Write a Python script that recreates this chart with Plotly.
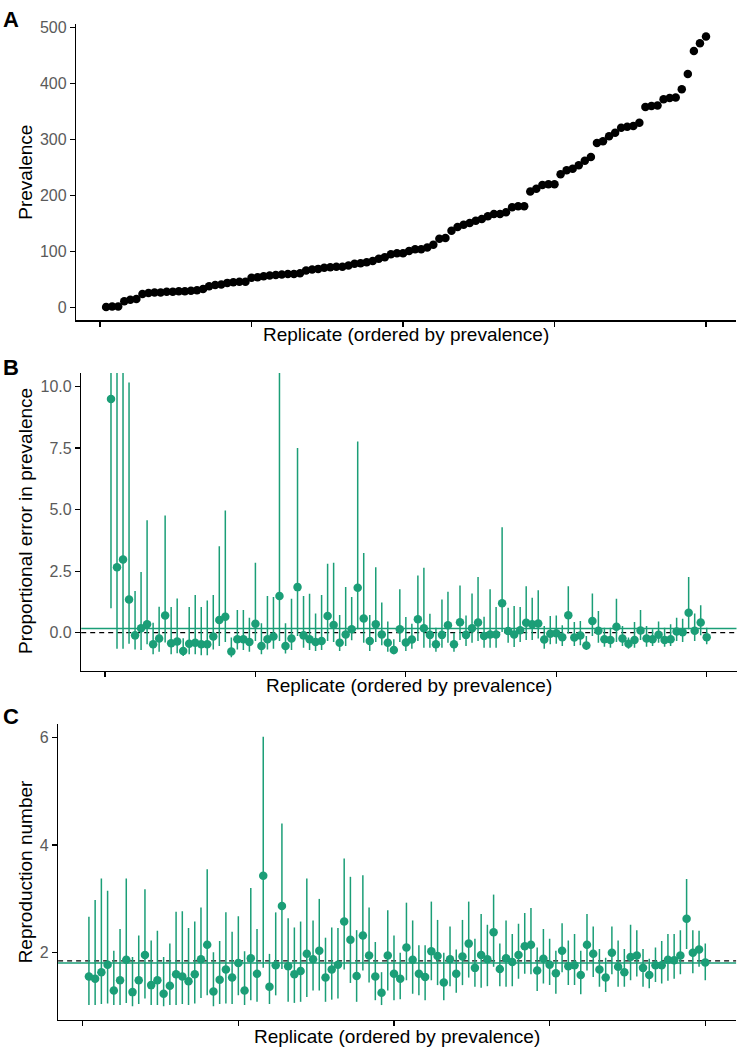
import plotly.graph_objects as go

# ---------------- data ----------------
replicate = list(range(1, 101))

prevalence = [1, 2, 2, 11, 14, 15, 24, 26, 27, 27, 28, 28, 29, 29, 30, 31, 33,
              38, 40, 41, 44, 45, 46, 46,
              53, 54, 56, 57, 58, 59, 60, 60, 61,
              66, 68, 69, 71, 72, 73, 73, 75, 78, 79, 81,
              83, 87, 90, 95, 97, 97, 101, 104, 104, 107, 112, 123, 124,
              137, 144, 148, 151, 155, 158, 163, 167, 167, 170, 179, 181, 181,
              207, 212, 219, 220, 220, 238, 245, 248, 254, 262, 269,
              294, 297, 306, 312, 321, 323, 324, 330,
              358, 360, 361, 372, 374, 375, 390, 417, 458, 472, 484]

err_mid = [9.49, 2.66, 2.97, 1.35, -0.11, 0.18, 0.34, -0.47, -0.24, 0.70,
           -0.43, -0.36, -0.74, -0.45, -0.41, -0.47, -0.47, -0.16, 0.51, 0.65,
           -0.77, -0.27, -0.27, -0.38, 0.36, -0.54, -0.27, -0.16, 1.49, -0.54,
           -0.24, 1.85, -0.11, -0.27, -0.38, -0.34, 0.68, 0.31, -0.41, -0.07,
           0.14, 1.82, 0.58, -0.34, 0.34, -0.07, -0.41, -0.70, 0.14, -0.40,
           -0.28, 0.54, 0.18, -0.09, -0.47, -0.09, 0.30, -0.47, 0.42, -0.09,
           0.18, 0.41, -0.14, -0.07, -0.07, 1.19, 0.07, -0.07, 0.10, 0.40,
           0.34, 0.37, -0.28, -0.04, -0.02, -0.19, 0.71, -0.20, -0.12, -0.52,
           0.47, 0.08, -0.27, -0.30, 0.24, -0.24, -0.45, -0.30, 0.09, -0.24,
           -0.27, -0.08, -0.30, -0.27, 0.05, 0.02, 0.81, 0.08, 0.41, -0.19]
err_lo = [0.99, -0.65, -0.65, -0.45, -0.68, -0.70, -0.47, -0.88, -0.78, -0.40,
          -0.88, -0.84, -0.95, -0.88, -0.88, -0.92, -0.92, -0.68, -0.54, -0.38,
          -1.00, -0.68, -0.70, -0.78, -0.34, -0.88, -0.68, -0.65, -0.34, -0.85,
          -0.70, -0.14, -0.61, -0.70, -0.74, -0.70, -0.34, -0.38, -0.74, -0.54,
          -0.31, 0.14, -0.41, -0.74, -0.38, -0.51, -0.78, -0.88, -0.38, -0.74,
          -0.65, -0.34, -0.61, -0.61, -0.78, -0.61, -0.41, -0.78, -0.30, -0.54,
          -0.41, -0.34, -0.61, -0.61, -0.61, 0.03, -0.41, -0.58, -0.38, -0.30,
          -0.30, -0.24, -0.65, -0.47, -0.45, -0.54, -0.03, -0.54, -0.51, -0.70,
          -0.14, -0.41, -0.57, -0.61, -0.38, -0.54, -0.65, -0.61, -0.30, -0.57,
          -0.54, -0.41, -0.57, -0.54, -0.34, -0.38, 0.14, -0.34, -0.11, -0.47]
err_hi = [15.0, 14.0, 13.0, 10.16, 1.69, 2.46, 4.57, 0.40, 1.05, 4.76,
          1.04, 1.39, -0.23, 1.04, 1.53, 1.04, 1.31, 1.53, 3.51, 4.96,
          -0.20, 0.92, 0.92, 0.61, 2.84, 0.38, 1.49, 1.45, 12.0, 0.38,
          1.38, 7.50, 1.49, 1.58, 0.78, 1.53, 2.80, 2.84, 0.72, 1.85,
          1.45, 7.77, 3.24, 0.72, 2.66, 1.22, 0.45, -0.27, 1.76, 0.64,
          0.36, 2.32, 2.64, 0.77, 0.20, 1.35, 1.66, 0.00, 1.92, 0.70,
          1.59, 2.26, 0.65, 1.76, 1.04, 4.28, 1.01, 1.08, 1.04, 1.89,
          1.42, 1.72, 0.27, 0.68, 0.70, 0.30, 1.89, 0.43, 0.47, -0.14,
          1.59, 0.88, 0.20, 0.20, 1.38, 0.27, -0.20, 0.43, 0.92, 0.27,
          0.14, 0.45, 0.20, 0.34, 0.61, 0.57, 2.26, 0.78, 1.11, 0.20]

r_mid = [1.56, 1.52, 1.64, 1.78, 1.30, 1.49, 1.87, 1.27, 1.49, 1.96,
         1.40, 1.49, 1.24, 1.39, 1.60, 1.56, 1.47, 1.60, 1.88, 2.15,
         1.28, 1.50, 1.69, 1.54, 1.81, 1.30, 1.90, 1.61, 3.43, 1.37,
         1.77, 2.87, 1.75, 1.60, 1.66, 1.98, 1.88, 2.04, 1.54, 1.69,
         1.78, 2.58, 2.24, 1.57, 2.32, 1.95, 1.56, 1.26, 1.95, 1.61,
         1.52, 2.10, 1.87, 1.61, 1.55, 2.03, 1.94, 1.45, 1.88, 1.61,
         1.93, 2.17, 1.72, 1.96, 1.88, 2.38, 1.70, 1.90, 1.83, 1.96,
         2.12, 2.15, 1.67, 1.89, 1.78, 1.62, 2.04, 1.75, 1.77, 1.59,
         2.15, 1.98, 1.69, 1.54, 2.00, 1.74, 1.64, 1.92, 1.95, 1.72,
         1.59, 1.77, 1.77, 1.87, 1.86, 1.95, 2.63, 2.00, 2.06, 1.82]
r_lo = [1.03, 1.03, 1.05, 1.06, 1.03, 1.03, 1.07, 1.01, 1.05, 1.15,
        1.03, 1.03, 1.01, 1.03, 1.03, 1.05, 1.03, 1.06, 1.16, 1.21,
        1.01, 1.05, 1.06, 1.05, 1.21, 1.03, 1.12, 1.09, 1.72, 1.05,
        1.21, 1.70, 1.09, 1.07, 1.09, 1.18, 1.30, 1.30, 1.09, 1.13,
        1.15, 1.69, 1.44, 1.09, 1.67, 1.45, 1.12, 1.03, 1.30, 1.12,
        1.14, 1.49, 1.24, 1.21, 1.12, 1.49, 1.40, 1.12, 1.38, 1.26,
        1.40, 1.54, 1.37, 1.35, 1.38, 1.74, 1.38, 1.37, 1.38, 1.52,
        1.61, 1.60, 1.29, 1.43, 1.40, 1.24, 1.64, 1.40, 1.40, 1.23,
        1.67, 1.55, 1.37, 1.27, 1.60, 1.37, 1.37, 1.49, 1.56, 1.37,
        1.34, 1.46, 1.43, 1.48, 1.52, 1.60, 2.07, 1.62, 1.74, 1.49]
r_hi = [2.67, 2.98, 3.38, 3.15, 2.04, 2.44, 3.38, 1.92, 2.32, 3.18,
        2.23, 2.41, 1.92, 2.17, 2.76, 2.77, 2.46, 2.58, 2.84, 3.55,
        2.01, 2.22, 2.75, 2.39, 2.68, 2.03, 3.20, 2.44, 6.01, 1.98,
        2.75, 4.40, 2.64, 2.47, 2.58, 3.38, 2.60, 3.00, 2.28, 2.47,
        2.46, 3.75, 3.41, 2.42, 3.44, 2.84, 2.20, 1.64, 2.79, 2.32,
        2.00, 2.93, 2.60, 2.14, 2.14, 2.95, 2.61, 2.00, 2.49, 2.06,
        2.61, 2.95, 2.26, 2.72, 2.52, 3.08, 2.17, 2.60, 2.35, 2.54,
        2.74, 2.83, 2.10, 2.44, 2.26, 2.04, 2.55, 2.23, 2.35, 2.04,
        2.72, 2.49, 2.07, 1.91, 2.49, 2.23, 2.07, 2.52, 2.42, 2.07,
        1.89, 2.10, 2.22, 2.35, 2.35, 2.42, 3.37, 2.42, 2.41, 2.17]

err_mean_line = 0.17
err_true_line = 0.0
r_mean_line = 1.81
r_true_line = 1.85

x_ticks = [0, 25, 50, 75, 100]
prev_ticks = [0, 100, 200, 300, 400, 500]
err_ticks = [0.0, 2.5, 5.0, 7.5, 10.0]
r_ticks = [2, 4, 6]

GREEN = "#1b9e77"
FONT = "Liberation Sans, Arial, Helvetica, sans-serif"
W, H = 739, 1051

fig = go.Figure()

# Panel A
fig.add_trace(go.Scatter(x=replicate, y=prevalence, mode="markers",
                         marker=dict(color="black", size=8.5, line=dict(width=0)),
                         xaxis="x", yaxis="y", showlegend=False))

# Panel B
fig.add_trace(go.Scatter(
    x=replicate, y=err_mid, mode="markers",
    marker=dict(color=GREEN, size=8.5, line=dict(width=0)),
    error_y=dict(type="data", symmetric=False,
                 array=[h - m for h, m in zip(err_hi, err_mid)],
                 arrayminus=[m - l for m, l in zip(err_mid, err_lo)],
                 width=0, thickness=1.5, color=GREEN),
    xaxis="x2", yaxis="y2", showlegend=False, cliponaxis=True))

# Panel C
fig.add_trace(go.Scatter(
    x=replicate, y=r_mid, mode="markers",
    marker=dict(color=GREEN, size=8.5, line=dict(width=0)),
    error_y=dict(type="data", symmetric=False,
                 array=[h - m for h, m in zip(r_hi, r_mid)],
                 arrayminus=[m - l for m, l in zip(r_mid, r_lo)],
                 width=0, thickness=1.5, color=GREEN),
    xaxis="x3", yaxis="y3", showlegend=False, cliponaxis=True))

# reference lines
shapes = []
for xa, ya, yv, col, dash in [("x2", "y2", err_mean_line, GREEN, "solid"),
                              ("x2", "y2", err_true_line, "black", "5px,4px"),
                              ("x3", "y3", r_mean_line, GREEN, "solid"),
                              ("x3", "y3", r_true_line, "black", "5px,4px")]:
    shapes.append(dict(type="line", xref=xa + " domain", yref=ya, x0=0, x1=1,
                       y0=yv, y1=yv, layer="below",
                       line=dict(color=col, width=1.4, dash=dash)))


def xax(dom_px, anchor):
    return dict(domain=[dom_px[0] / W, dom_px[1] / W], anchor=anchor,
                range=[-3.95, 104.95], tickvals=x_ticks,
                ticktext=[""] * len(x_ticks), ticks="outside", ticklen=5,
                tickwidth=1.1, tickcolor="black", showline=True,
                linecolor="black", linewidth=1.3, showgrid=False,
                zeroline=False, fixedrange=True)


def yax(rng, dom_px, anchor, tickvals, ticktext):
    return dict(domain=[1 - dom_px[1] / H, 1 - dom_px[0] / H], anchor=anchor,
                range=rng, tickvals=tickvals, ticktext=ticktext,
                ticks="outside", ticklen=5, tickwidth=1.1, tickcolor="black",
                showline=True, linecolor="black", linewidth=1.3,
                showgrid=False, zeroline=False, fixedrange=True,
                tickfont=dict(family=FONT, size=16, color="#5a5a5a"))


layout = dict(
    width=W, height=H, margin=dict(l=0, r=0, t=0, b=0),
    paper_bgcolor="white", plot_bgcolor="white",
    font=dict(family=FONT),
    xaxis=xax((76.1, 736.0), "y"),
    yaxis=yax([-23, 506], (19.3, 316.9), "x", prev_ticks,
              [str(v) for v in prev_ticks]),
    xaxis2=xax((81.2, 736.5), "y2"),
    yaxis2=yax([-1.55, 10.55], (369.7, 669.0), "x2", err_ticks,
               [f"{v:.1f}" for v in err_ticks]),
    xaxis3=xax((58.1, 736.1), "y3"),
    yaxis3=yax([0.75, 6.25], (722.2, 1020.0), "x3", r_ticks,
               [str(v) for v in r_ticks]),
    shapes=shapes,
)
fig.update_layout(**layout)

ann = []
title_font = dict(family=FONT, size=19, color="black")
# x titles
for cx, cy in [((76.1 + 736.0) / 2, 331), ((81.2 + 736.5) / 2, 684),
               ((58.1 + 736.1) / 2, 1036)]:
    ann.append(dict(text="Replicate (ordered by prevalence)", x=cx / W,
                    y=1 - cy / H, xref="paper", yref="paper", showarrow=False,
                    xanchor="center", yanchor="middle", font=title_font))
# y titles
for txt, cy in [("Prevalence", 168), ("Proportional error in prevalence", 519),
                ("Reproduction number", 871)]:
    ann.append(dict(text=txt, x=25.5 / W, y=1 - cy / H, xref="paper",
                    yref="paper", showarrow=False, textangle=-90,
                    xanchor="center", yanchor="middle", font=title_font))
# panel letters
for letter, cy in [("A", 15), ("B", 364), ("C", 715)]:
    ann.append(dict(text=f"<b>{letter}</b>", x=10.5 / W, y=1 - cy / H,
                    xref="paper", yref="paper", showarrow=False,
                    xanchor="center", yanchor="middle",
                    font=dict(family=FONT, size=22, color="black")))
fig.update_layout(annotations=ann)

fig.write_html("out.html",
               config={"displayModeBar": False, "staticPlot": True},
               post_script="document.body.style.margin='0';"
                           "document.body.style.overflow='hidden';")
